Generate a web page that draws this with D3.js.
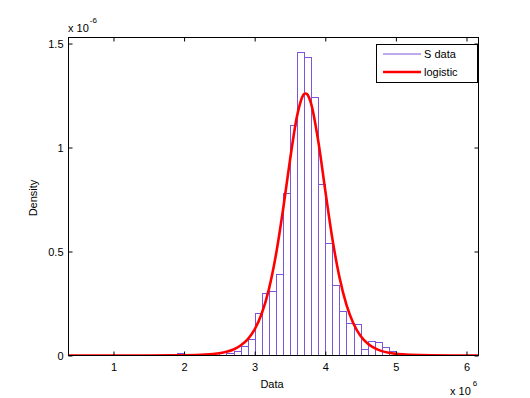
<!DOCTYPE html>
<html>
<head>
<meta charset="utf-8">
<script src="https://cdn.jsdelivr.net/npm/d3@7"></script>
<style>
  html, body { margin: 0; padding: 0; background: #fff; }
  svg { display: block; }
  text { font-family: "Liberation Sans", Arial, sans-serif; fill: #000; }
</style>
</head>
<body>
<div id="container"></div>
<script>
// histogram bins (left edge, x1e6) and density (x1e-6)
const binLeft = [1.9, 2.0, 2.1, 2.2, 2.3, 2.4, 2.5, 2.6, 2.7, 2.8, 2.9,
                 3.0, 3.1, 3.2, 3.3, 3.4, 3.5, 3.6, 3.7, 3.8, 3.9,
                 4.0, 4.1, 4.2, 4.3, 4.4, 4.5, 4.6, 4.7, 4.8, 4.9,
                 5.0, 5.1, 5.2, 5.3];
const binDensity = [0.012, 0.002, 0.001, 0.002, 0.003, 0.004, 0.018, 0.012, 0.022, 0.045, 0.077,
                    0.205, 0.300, 0.310, 0.390, 0.780, 1.110, 1.458, 1.434, 1.244, 0.825,
                    0.540, 0.340, 0.213, 0.157, 0.152, 0.029, 0.069, 0.066, 0.042, 0.021,
                    0.010, 0.005, 0.003, 0.001];
const binWidth = 0.1;

// fitted logistic curve
const fitX = [0.363, 1.0, 1.5, 2.0, 2.3, 2.5, 2.6, 2.7, 2.8, 2.9, 3.0, 3.1, 3.2, 3.3, 3.4, 3.5,
              3.6, 3.7, 3.72, 3.74, 3.8, 3.9, 4.0, 4.1, 4.2, 4.3, 4.4, 4.5, 4.6, 4.7, 4.8,
              4.9, 5.0, 5.2, 5.5, 6.17];
const fitY = [0, 0, 0.0001, 0.001, 0.004, 0.011, 0.018, 0.029, 0.048, 0.078, 0.126, 0.202, 0.317,
              0.482, 0.697, 0.939, 1.151, 1.257, 1.26, 1.257, 1.210, 1.032, 0.793, 0.562, 0.377,
              0.243, 0.153, 0.094, 0.058, 0.035, 0.021, 0.013, 0.008, 0.003, 0.0006, 0];

const xTicks = [1, 2, 3, 4, 5, 6];
const yTicks = [0, 0.5, 1, 1.5];
const seriesNames = ['S data', 'logistic'];

const W = 530, H = 398;
const box = { left: 68.5, right: 478.5, top: 37.5, bottom: 355.5 };
const purple = '#7f55d8';
const red = '#ff0000';

const x = d3.scaleLinear().domain([0.363, 6.17]).range([box.left, box.right]);
const y = d3.scaleLinear().domain([0, 1.529]).range([box.bottom, box.top]);

const svg = d3.select('#container').append('svg')
    .attr('width', W).attr('height', H);

svg.append('clipPath').attr('id', 'plotclip')
  .append('rect')
    .attr('x', box.left).attr('y', box.top)
    .attr('width', box.right - box.left).attr('height', box.bottom - box.top);

const plot = svg.append('g').attr('clip-path', 'url(#plotclip)');

// histogram outlines
plot.selectAll('rect.bin')
  .data(binLeft.map((b, i) => ({ b: b, v: binDensity[i] })))
  .enter().append('rect')
    .attr('class', 'bin')
    .attr('x', d => Math.round(x(d.b)) + 0.5)
    .attr('y', d => Math.round(y(d.v)) + 0.5)
    .attr('width', d => Math.round(x(d.b + binWidth)) - Math.round(x(d.b)))
    .attr('height', d => Math.max(0, Math.round(y(0)) - Math.round(y(d.v))))
    .attr('fill', 'none')
    .attr('stroke', purple)
    .attr('stroke-width', 1);

// logistic fit
const line = d3.line()
    .x((d, i) => x(fitX[i]))
    .y(d => y(d))
    .curve(d3.curveMonotoneX);

plot.append('path')
    .datum(fitY)
    .attr('d', line)
    .attr('fill', 'none')
    .attr('stroke', red)
    .attr('stroke-width', 2.6)
    .attr('stroke-linejoin', 'round');

// axes (inward ticks on all four sides)
const tickLen = 4;
const fontSize = 11;

const xAxis = svg.append('g')
    .attr('transform', `translate(0,${box.bottom})`)
    .call(d3.axisBottom(x).tickValues(xTicks).tickFormat(d3.format('d'))
        .tickSizeInner(-tickLen).tickSizeOuter(0).tickPadding(8));
svg.append('g')
    .attr('transform', `translate(0,${box.top})`)
    .call(d3.axisTop(x).tickValues(xTicks).tickFormat('')
        .tickSizeInner(-tickLen).tickSizeOuter(0));

const yAxis = svg.append('g')
    .attr('transform', `translate(${box.left},0)`)
    .call(d3.axisLeft(y).tickValues(yTicks).tickFormat(d => d)
        .tickSizeInner(-tickLen).tickSizeOuter(0).tickPadding(5));
svg.append('g')
    .attr('transform', `translate(${box.right},0)`)
    .call(d3.axisRight(y).tickValues(yTicks).tickFormat('')
        .tickSizeInner(-tickLen).tickSizeOuter(0));

svg.selectAll('.domain').remove();
svg.selectAll('.tick line').attr('stroke', '#000');
svg.selectAll('.tick text')
    .attr('font-family', '"Liberation Sans", Arial, sans-serif')
    .attr('font-size', fontSize)
    .attr('fill', '#000');

// plot frame
svg.append('rect')
    .attr('x', box.left).attr('y', box.top)
    .attr('width', box.right - box.left).attr('height', box.bottom - box.top)
    .attr('fill', 'none').attr('stroke', '#000').attr('stroke-width', 1);

// axis labels
svg.append('text')
    .attr('x', 272).attr('y', 388)
    .attr('text-anchor', 'middle')
    .attr('font-size', fontSize)
    .text('Data');

svg.append('text')
    .attr('transform', 'translate(37,198) rotate(-90)')
    .attr('text-anchor', 'middle')
    .attr('font-size', fontSize)
    .text('Density');

// exponent multipliers
const expTop = svg.append('text').attr('x', 68).attr('y', 32).attr('font-size', fontSize);
expTop.append('tspan').text('x 10');
expTop.append('tspan').attr('dy', -9).attr('dx', 1).attr('font-size', 8).text('-6');

const expBot = svg.append('text').attr('x', 450).attr('y', 395).attr('font-size', fontSize);
expBot.append('tspan').text('x 10');
expBot.append('tspan').attr('dy', -9).attr('dx', 2).attr('font-size', 8).text('6');

// legend
const lg = svg.append('g');
lg.append('rect')
    .attr('x', 376.5).attr('y', 44.5).attr('width', 101).attr('height', 38)
    .attr('fill', '#fff').attr('stroke', '#000').attr('stroke-width', 1);
const legendRows = [
  { name: seriesNames[0], color: purple, width: 1, yy: 54 },
  { name: seriesNames[1], color: red, width: 2.6, yy: 72 }
];
legendRows.forEach(r => {
  lg.append('line')
      .attr('x1', 383).attr('x2', 421)
      .attr('y1', r.yy).attr('y2', r.yy)
      .attr('stroke', r.color).attr('stroke-width', r.width);
  lg.append('text')
      .attr('x', 424).attr('y', r.yy)
      .attr('dy', '0.35em')
      .attr('font-size', fontSize)
      .text(r.name);
});
</script>
</body>
</html>
